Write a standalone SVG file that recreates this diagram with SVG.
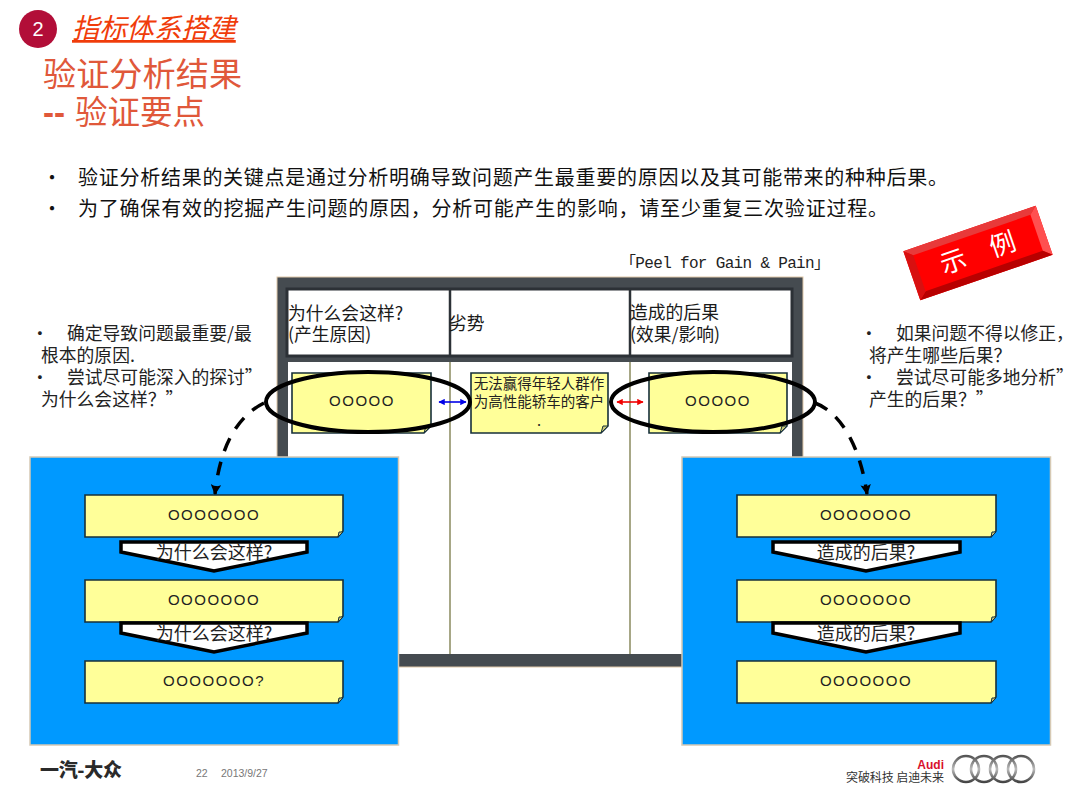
<svg xmlns="http://www.w3.org/2000/svg" width="1080" height="810" viewBox="0 0 1080 810">
<defs>
<marker id="ah" viewBox="0 0 5 5" markerWidth="3" markerHeight="3" refX="4.5" refY="2.5" orient="auto"><path d="M0,0L5,2.5L0,5L1,2.5Z" fill="#000"/></marker>
<marker id="bl" markerWidth="4" markerHeight="4" refX="3.6" refY="2" orient="auto-start-reverse"><path d="M0,0L4,2L0,4Z" fill="#0000e6"/></marker>
<marker id="rd" markerWidth="4" markerHeight="4" refX="3.6" refY="2" orient="auto-start-reverse"><path d="M0,0L4,2L0,4Z" fill="#f00000"/></marker>
<linearGradient id="ring" x1="0" y1="0" x2="0" y2="1"><stop offset="0" stop-color="#555"/><stop offset=".5" stop-color="#bbb"/><stop offset="1" stop-color="#444"/></linearGradient>
</defs>
<style>
text{font-family:"Noto Sans CJK SC","Liberation Sans",sans-serif}
.b{font-size:20px;fill:#111}
.s{font-size:17.800px;fill:#222}
.h{font-size:17.800px;fill:#1a1a1a}
.t{font-size:33.200px;fill:#e0583a}
.note{fill:#ffff99;stroke:#17303a;stroke-width:1.6}
.fold{fill:#c9c97a;stroke:#17303a;stroke-width:1}
.o{font-size:15px;letter-spacing:1.500px;fill:#222;text-anchor:middle;font-family:"Liberation Sans",sans-serif}
.cv{fill:#fff;stroke:#000;stroke-width:3.5}
.q{font-size:18px;fill:#222;text-anchor:middle}
.panel{fill:#0099ff;stroke:#d6c9b4;stroke-width:1.5}
.dark{fill:#454b50}
.ell{fill:none;stroke:#000;stroke-width:4}
.col{stroke:#8a8a5e;stroke-width:1.5}
.mid{font-size:14.500px;fill:#222;text-anchor:middle}
</style>
<rect width="1080" height="810" fill="#fff"/>

<g id="header">
<circle cx="38" cy="29" r="19" fill="#b20e38"/>
<text x="38" y="36" text-anchor="middle" style="font-family:'Liberation Sans',sans-serif;font-size:20px;fill:#fff">2</text>
<text x="72" y="38" style="font-size:27.300px;font-style:italic;fill:#f03c0a;text-decoration:underline">指标体系搭建</text>
<text x="43" y="86" class="t">验证分析结果</text>
<text x="43" y="124" class="t"><tspan style="font-family:'Liberation Sans',sans-serif;font-weight:bold">--</tspan><tspan x="75" style="font-size:32.500px">验证要点</tspan></text>
</g>

<g id="bullets">
<text x="42" y="185" class="b">·</text><text x="78" y="185" class="b" textLength="870">验证分析结果的关键点是通过分析明确导致问题产生最重要的原因以及其可能带来的种种后果。</text>
<text x="42" y="216" class="b">·</text><text x="78" y="216" class="b" textLength="810">为了确保有效的挖掘产生问题的原因，分析可能产生的影响，请至少重复三次验证过程。</text>
</g>

<text id="peel" x="620" y="268" style="font-family:'Liberation Mono','Noto Sans CJK SC',monospace;font-size:16px;fill:#222" textLength="210">「Peel for Gain &amp; Pain」</text>

<g id="stamp" transform="rotate(-19 978 253)">
<rect x="908" y="227" width="140" height="52" fill="#ff0000"/>
<path d="M908,227L1048,227L1040,234L916,234Z" fill="#e83a3a"/>
<path d="M1048,227L1048,279L1040,272L1040,234Z" fill="#ff5050"/>
<path d="M908,279L1048,279L1040,272L916,272Z" fill="#b80000"/>
<path d="M908,227L908,279L916,272L916,234Z" fill="#d81010"/>
<text x="978" y="262" text-anchor="middle" style="font-size:26px;fill:#fff">示　例</text>
</g>

<g id="left-note">
<text x="31" y="340" class="s">·</text><text x="67" y="340" class="s">确定导致问题最重要/最</text>
<text x="41" y="362" class="s">根本的原因.</text>
<text x="31" y="384" class="s">·</text><text x="67" y="384" class="s">尝试尽可能深入的探讨”</text>
<text x="41" y="406" class="s">为什么会这样？”</text>
</g>
<g id="right-note">
<text x="860" y="340" class="s">·</text><text x="896" y="340" class="s">如果问题不得以修正，</text>
<text x="869" y="362" class="s">将产生哪些后果？</text>
<text x="860" y="384" class="s">·</text><text x="896" y="384" class="s">尝试尽可能多地分析”</text>
<text x="869" y="406" class="s">产生的后果？”</text>
</g>

<g id="table">
<rect x="277" y="277" width="526" height="390" class="dark" stroke="#e0c8a8" stroke-width="1"/>
<rect x="288" y="362" width="504" height="292" fill="#fff"/>
<line x1="450" y1="362" x2="450" y2="654" class="col"/>
<line x1="630" y1="362" x2="630" y2="654" class="col"/>
<rect x="287" y="289" width="505" height="67" fill="#fff" stroke="#2c3136" stroke-width="3"/>
<line x1="450" y1="289" x2="450" y2="356" stroke="#2c3136" stroke-width="2.5"/>
<line x1="630" y1="289" x2="630" y2="356" stroke="#2c3136" stroke-width="2.5"/>
<text x="288" y="320" class="h">为什么会这样?</text>
<text x="288" y="341" class="h">(产生原因)</text>
<text x="449" y="330" class="h">劣势</text>
<text x="630" y="319" class="h">造成的后果</text>
<text x="630" y="341" class="h">(效果/影响)</text>
</g>

<g id="cause-note">
<path d="M292,373H431V426L424,433H292Z" class="note"/><path d="M424,433L426,426H431Z" class="fold"/>
<text x="362" y="406" class="o">OOOOO</text>
</g>
<g id="mid-note">
<path d="M471,373H608V426L601,433H471Z" class="note"/><path d="M601,433L603,426H608Z" class="fold"/>
<text x="539" y="389" class="mid">无法赢得年轻人群作</text>
<text x="539" y="407" class="mid">为高性能轿车的客户</text>
<text x="539" y="426" class="mid">.</text>
</g>
<g id="effect-note">
<path d="M649,373H787V426L780,433H649Z" class="note"/><path d="M780,433L782,426H787Z" class="fold"/>
<text x="718" y="406" class="o">OOOOO</text>
</g>

<g id="panel-left">
<rect x="30" y="457" width="368.500" height="288" class="panel"/>
<g id="l1"><path d="M85,495H343V531L338,537H85Z" class="note"/><path d="M338,537L339,532H343Z" class="fold"/><text x="214" y="520" class="o">OOOOOOO</text></g>
<g id="l2"><path d="M121,542H307V552L214,571L121,552Z" class="cv"/><text x="214" y="559" class="q">为什么会这样?</text></g>
<g id="l3"><path d="M85,580H343V616L338,622H85Z" class="note"/><path d="M338,622L339,617H343Z" class="fold"/><text x="214" y="605" class="o">OOOOOOO</text></g>
<g id="l4"><path d="M121,623H307V633L214,652L121,633Z" class="cv"/><text x="214" y="640" class="q">为什么会这样?</text></g>
<g id="l5"><path d="M85,661H343V697L338,703H85Z" class="note"/><path d="M338,703L339,698H343Z" class="fold"/><text x="214" y="686" class="o">OOOOOOO?</text></g>
</g>

<g id="panel-right">
<rect x="682" y="457" width="368.500" height="288" class="panel"/>
<g id="r1"><path d="M737,495H996V531L991,537H737Z" class="note"/><path d="M991,537L992,532H996Z" class="fold"/><text x="866" y="520" class="o">OOOOOOO</text></g>
<g id="r2"><path d="M773,542H960V552L866,571L773,552Z" class="cv"/><text x="866" y="559" class="q">造成的后果?</text></g>
<g id="r3"><path d="M737,580H996V616L991,622H737Z" class="note"/><path d="M991,622L992,617H996Z" class="fold"/><text x="866" y="605" class="o">OOOOOOO</text></g>
<g id="r4"><path d="M773,623H960V633L866,652L773,633Z" class="cv"/><text x="866" y="640" class="q">造成的后果?</text></g>
<g id="r5"><path d="M737,661H996V697L991,703H737Z" class="note"/><path d="M991,703L992,698H996Z" class="fold"/><text x="866" y="686" class="o">OOOOOOO</text></g>
</g>

<g id="connectors">
<line x1="439" y1="402" x2="466" y2="402" stroke="#0000e6" stroke-width="1.6" marker-start="url(#bl)" marker-end="url(#bl)"/>
<line x1="617" y1="402" x2="643" y2="402" stroke="#f00000" stroke-width="1.6" marker-start="url(#rd)" marker-end="url(#rd)"/>
<ellipse cx="368" cy="402" rx="102" ry="30" class="ell"/>
<ellipse cx="713" cy="402" rx="102" ry="30" class="ell"/>
<path d="M264,403C238,416 220,445 215,494" fill="none" stroke="#000" stroke-width="3.500" stroke-dasharray="14 11" marker-end="url(#ah)"/>
<path d="M815,403C840,412 860,445 867,494" fill="none" stroke="#000" stroke-width="3.500" stroke-dasharray="14 11" marker-end="url(#ah)"/>
</g>

<g id="footer">
<text x="40" y="777" style="font-size:19px;font-weight:900;fill:#2a2a2a" textLength="82">一汽-大众</text>
<text x="196" y="777" style="font-family:'Liberation Sans',sans-serif;font-size:10.500px;fill:#777">22</text>
<text x="221" y="777" style="font-family:'Liberation Sans',sans-serif;font-size:10.500px;fill:#777">2013/9/27</text>
<text x="944" y="769" text-anchor="end" style="font-family:'Liberation Sans',sans-serif;font-size:12px;font-weight:bold;fill:#d8102c">Audi</text>
<text x="944" y="782" text-anchor="end" style="font-size:12px;fill:#333" textLength="98">突破科技 启迪未来</text>
<g fill="none" stroke="url(#ring)" stroke-width="2.600">
<circle cx="966" cy="769" r="13"/><circle cx="984" cy="769" r="13"/><circle cx="1003" cy="769" r="13"/><circle cx="1021" cy="769" r="13"/>
</g>
</g>
</svg>
